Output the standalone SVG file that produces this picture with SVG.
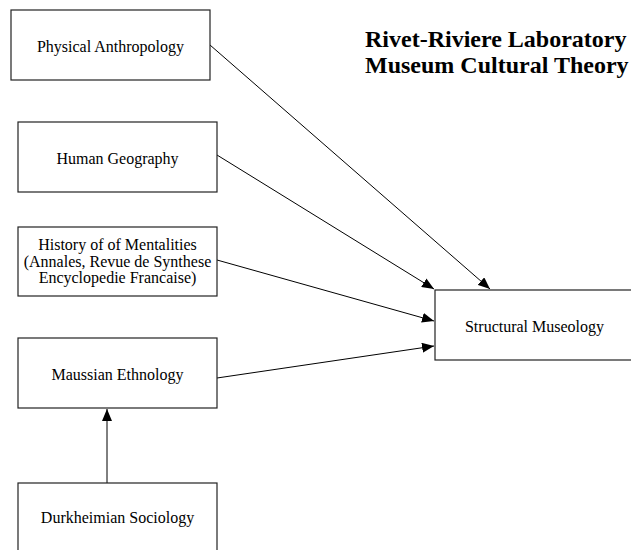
<svg xmlns="http://www.w3.org/2000/svg" width="631" height="550" viewBox="0 0 631 550">
  <style>
    .box { fill: #ffffff; stroke: #222222; stroke-width: 1.2; }
    .lbl { font-family: "Liberation Serif", "Times New Roman", serif; font-size: 16px; fill: #000000; text-anchor: middle; }
    .title { font-family: "Liberation Serif", "Times New Roman", serif; font-size: 24px; font-weight: bold; fill: #000000; }
    .edge { stroke: #000000; stroke-width: 1; fill: none; marker-end: url(#arrow); }
  </style>
  <defs>
    <marker id="arrow" viewBox="0 0 12 10" refX="12" refY="5" markerWidth="12" markerHeight="10" markerUnits="userSpaceOnUse" orient="auto">
      <path d="M0,0 L12,5 L0,10 Z" fill="#000000"/>
    </marker>
  </defs>
  <rect width="631" height="550" fill="#ffffff"/>

  <g id="title">
    <text class="title" x="365" y="47">Rivet-Riviere Laboratory</text>
    <text class="title" x="365" y="73">Museum Cultural Theory</text>
  </g>

  <g id="connectors">
    <line class="edge" x1="210" y1="45" x2="490" y2="289"/>
    <line class="edge" x1="217" y1="155" x2="434" y2="289"/>
    <line class="edge" x1="217" y1="260" x2="434" y2="321"/>
    <line class="edge" x1="217" y1="378" x2="434" y2="346"/>
    <line class="edge" x1="107" y1="483" x2="107" y2="409"/>
  </g>

  <g id="physical-anthropology">
    <rect class="box" x="11" y="10" width="199" height="70"/>
    <text class="lbl" x="110.5" y="52">Physical Anthropology</text>
  </g>

  <g id="human-geography">
    <rect class="box" x="18" y="122" width="199" height="70"/>
    <text class="lbl" x="117.5" y="164">Human Geography</text>
  </g>

  <g id="history-of-mentalities">
    <rect class="box" x="18" y="227" width="199" height="69"/>
    <text class="lbl" x="117.5" y="250">History of of Mentalities</text>
    <text class="lbl" x="117.5" y="267">(Annales, Revue de Synthese</text>
    <text class="lbl" x="117.5" y="283">Encyclopedie Francaise)</text>
  </g>

  <g id="maussian-ethnology">
    <rect class="box" x="18" y="338" width="199" height="70"/>
    <text class="lbl" x="117.5" y="380">Maussian Ethnology</text>
  </g>

  <g id="durkheimian-sociology">
    <rect class="box" x="18" y="483" width="199" height="70"/>
    <text class="lbl" x="117.5" y="523">Durkheimian Sociology</text>
  </g>

  <g id="structural-museology">
    <rect class="box" x="435" y="290" width="199" height="70"/>
    <text class="lbl" x="534.5" y="332">Structural Museology</text>
  </g>
</svg>
